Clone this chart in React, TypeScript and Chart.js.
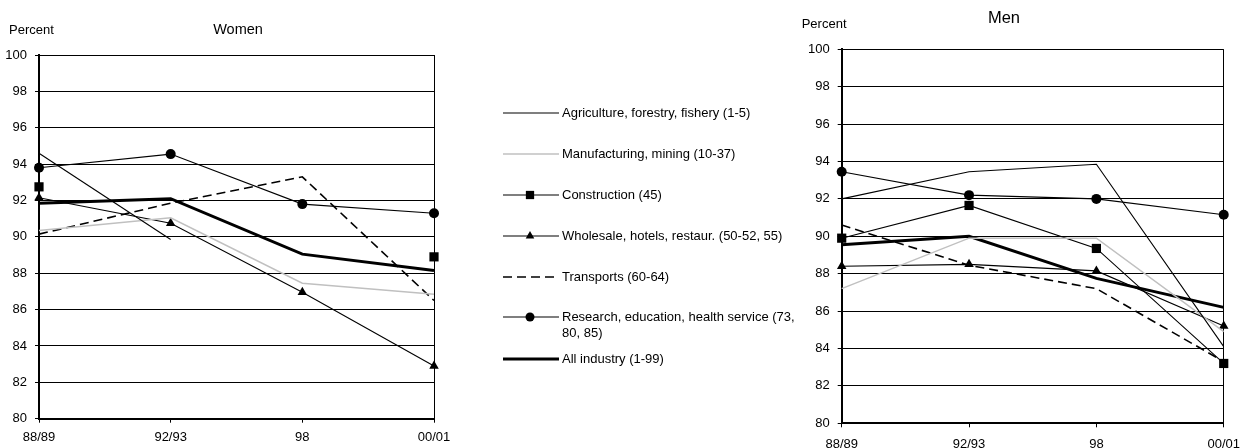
import React, { useEffect, useRef } from 'react';
import { Chart, registerables } from 'chart.js';

Chart.register(...registerables);

// ---------- data ----------
const categories = ['88/89', '92/93', '98', '00/01'];
const yMin = 80;
const yMax = 100;
const yStep = 2;

const seriesNames = [
  'Agriculture, forestry, fishery (1-5)',
  'Manufacturing, mining (10-37)',
  'Construction (45)',
  'Wholesale, hotels, restaur. (50-52, 55)',
  'Transports (60-64)',
  'Research, education, health service (73, 80, 85)',
  'All industry (1-99)',
];

// Women
const agricultureWomen = [94.6, 89.85, null, null];
const manufacturingWomen = [90.35, 91.05, 87.45, 86.85];
const constructionWomen = [92.75, null, null, 88.9];
const wholesaleWomen = [92.15, 90.75, 86.95, 82.9];
const transportsWomen = [90.15, 91.85, 93.3, 86.5];
const researchWomen = [93.8, 94.55, 91.8, 91.3];
const allIndustryWomen = [91.85, 92.1, 89.05, 88.15];

// Men
const agricultureMen = [92.0, 93.45, 93.85, 84.1];
const manufacturingMen = [87.2, 89.9, 89.9, 84.9];
const constructionMen = [89.9, 91.65, 89.35, 83.2];
const wholesaleMen = [88.4, 88.5, 88.15, 85.2];
const transportsMen = [90.6, 88.45, 87.2, 83.3];
const researchMen = [93.45, 92.2, 92.0, 91.15];
const allIndustryMen = [89.55, 90.0, 87.75, 86.2];

const womenTitle = 'Women';
const menTitle = 'Men';
const yAxisLabel = 'Percent';

// ---------- styles ----------
const FONT = "'Liberation Sans', Arial, Helvetica, sans-serif";

type SeriesStyle = {
  color: string;
  width: number;
  dash: number[];
  point: string | false;
  radius: number;
};

const seriesStyles: SeriesStyle[] = [
  { color: '#000000', width: 1.1, dash: [], point: false, radius: 0 },
  { color: '#c0c0c0', width: 1.5, dash: [], point: false, radius: 0 },
  { color: '#000000', width: 1.1, dash: [], point: 'rect', radius: 6.5 },
  { color: '#000000', width: 1.1, dash: [], point: 'triangle', radius: 5.5 },
  { color: '#000000', width: 1.6, dash: [9, 5], point: false, radius: 0 },
  { color: '#000000', width: 1.1, dash: [], point: 'circle', radius: 5 },
  { color: '#000000', width: 3, dash: [], point: false, radius: 0 },
];

function buildDatasets(values: (number | null)[][]) {
  return values.map((data, i) => {
    const s = seriesStyles[i];
    return {
      label: seriesNames[i],
      data,
      borderColor: s.color,
      backgroundColor: s.color,
      borderWidth: s.width,
      borderDash: s.dash,
      pointStyle: s.point || 'circle',
      pointRadius: s.point ? s.radius : 0,
      pointHoverRadius: s.point ? s.radius : 0,
      pointBackgroundColor: '#000000',
      pointBorderColor: '#000000',
      pointBorderWidth: 0,
      tension: 0,
      spanGaps: false,
      clip: false as any,
      fill: false,
    };
  });
}

function drawMarker(ctx: CanvasRenderingContext2D, style: string, x: number, y: number, r: number) {
  ctx.beginPath();
  if (style === 'rect') {
    const s = r * Math.SQRT2;
    ctx.rect(x - s / 2, y - s / 2, s, s);
  } else if (style === 'triangle') {
    const a = (2 * Math.PI) / 3;
    ctx.moveTo(x, y - r);
    ctx.lineTo(x + Math.sin(a) * r, y - Math.cos(a) * r);
    ctx.lineTo(x + Math.sin(2 * a) * r, y - Math.cos(2 * a) * r);
    ctx.closePath();
  } else {
    ctx.arc(x, y, r, 0, Math.PI * 2);
  }
  ctx.fillStyle = '#000';
  ctx.fill();
}

function wrapText(ctx: CanvasRenderingContext2D, text: string, maxWidth: number) {
  const words = text.split(' ');
  const lines: string[] = [];
  let cur = '';
  for (const w of words) {
    const test = cur ? cur + ' ' + w : w;
    if (ctx.measureText(test).width > maxWidth && cur) {
      lines.push(cur);
      cur = w;
    } else {
      cur = test;
    }
  }
  if (cur) lines.push(cur);
  return lines;
}

const panelTextPlugin = {
  id: 'panelText',
  afterDraw(chart: any, _args: any, opts: any) {
    const ctx: CanvasRenderingContext2D = chart.ctx;
    ctx.save();
    ctx.fillStyle = '#000';
    ctx.textBaseline = 'middle';
    ctx.textAlign = 'center';
    ctx.font = `${opts.titleSize}px ${FONT}`;
    ctx.fillText(opts.title, opts.titleX, opts.titleY);
    ctx.textAlign = 'left';
    ctx.font = `13px ${FONT}`;
    ctx.fillText(yAxisLabel, opts.percentX, opts.percentY);

    if (opts.legend) {
      const L = opts.legend;
      chart.data.datasets.forEach((ds: any, i: number) => {
        const s = seriesStyles[i];
        const y = L.rows[i];
        ctx.save();
        ctx.strokeStyle = s.color;
        ctx.lineWidth = s.width;
        ctx.setLineDash(s.dash);
        ctx.beginPath();
        ctx.moveTo(L.lineStart, y);
        ctx.lineTo(L.lineEnd, y);
        ctx.stroke();
        ctx.restore();
        if (s.point) drawMarker(ctx, s.point, L.markerX, y, s.radius * 0.9);
        ctx.fillStyle = '#000';
        ctx.font = `13px ${FONT}`;
        ctx.textAlign = 'left';
        ctx.textBaseline = 'middle';
        const lines = wrapText(ctx, ds.label, L.maxWidth);
        lines.forEach((ln, k) => ctx.fillText(ln, L.textX, y + k * L.lineHeight));
      });
    }
    ctx.restore();
  },
};

function makeConfig(
  datasets: any[],
  layout: { left: number; right: number; top: number; axisH: number; yW: number; xPad: number },
  text: any
) {
  return {
    type: 'line' as const,
    data: { labels: categories, datasets },
    plugins: [panelTextPlugin],
    options: {
      responsive: false,
      animation: false as const,
      devicePixelRatio: 1,
      layout: { padding: { left: layout.left, right: layout.right, top: layout.top, bottom: 0 } },
      plugins: {
        legend: { display: false },
        title: { display: false },
        tooltip: { enabled: false },
        panelText: text,
      },
      events: [],
      scales: {
        x: {
          type: 'category' as const,
          offset: false,
          afterFit: (s: any) => {
            s.height = layout.axisH;
          },
          grid: {
            color: (c: any) => (c.index === categories.length - 1 ? '#000000' : 'rgba(0,0,0,0)'),
            tickColor: '#000000',
            tickLength: 4,
            lineWidth: 1,
          },
          border: { color: '#000000', width: 2 },
          ticks: {
            color: '#000000',
            font: { family: FONT, size: 13 },
            padding: layout.xPad,
            maxRotation: 0,
            autoSkip: false,
          },
        },
        y: {
          min: yMin,
          max: yMax,
          afterFit: (s: any) => {
            s.width = layout.yW;
          },
          grid: { color: '#000000', tickColor: '#000000', tickLength: 4, lineWidth: 1 },
          border: { color: '#000000', width: 2 },
          ticks: {
            stepSize: yStep,
            color: '#000000',
            font: { family: FONT, size: 13 },
            padding: 8,
          },
        },
      },
    },
  };
}

export default function App() {
  const womenRef = useRef<HTMLCanvasElement>(null);
  const menRef = useRef<HTMLCanvasElement>(null);

  useEffect(() => {
    const women = new Chart(
      womenRef.current as HTMLCanvasElement,
      makeConfig(
        buildDatasets([
          agricultureWomen,
          manufacturingWomen,
          constructionWomen,
          wholesaleWomen,
          transportsWomen,
          researchWomen,
          allIndustryWomen,
        ]),
        { left: 0, right: 810 - 434, top: 55, axisH: 448 - 418.7, yW: 39, xPad: 7 },
        {
          title: womenTitle,
          titleSize: 14.5,
          titleX: 238,
          titleY: 30,
          percentX: 9,
          percentY: 30,
          legend: {
            rows: [113, 154, 195, 236, 277, 317, 359],
            lineStart: 503,
            lineEnd: 559,
            markerX: 530,
            textX: 562,
            maxWidth: 245,
            lineHeight: 16,
          },
        }
      ) as any
    );
    const men = new Chart(
      menRef.current as HTMLCanvasElement,
      makeConfig(
        buildDatasets([
          agricultureMen,
          manufacturingMen,
          constructionMen,
          wholesaleMen,
          transportsMen,
          researchMen,
          allIndustryMen,
        ]),
        { left: 22.7, right: 469 - 445.7, top: 49.3, axisH: 448 - 423.3, yW: 39, xPad: 9 },
        {
          title: menTitle,
          titleSize: 16.5,
          titleX: 224,
          titleY: 18,
          percentX: 21.7,
          percentY: 24,
        }
      ) as any
    );
    return () => {
      women.destroy();
      men.destroy();
    };
  }, []);

  return (
    <div style={{ position: 'absolute', left: 0, top: 0, width: 1249, height: 448, background: '#ffffff' }}>
      <canvas ref={womenRef} width={810} height={448} style={{ position: 'absolute', left: 0, top: 0 }} />
      <canvas ref={menRef} width={469} height={448} style={{ position: 'absolute', left: 780, top: 0 }} />
    </div>
  );
}
